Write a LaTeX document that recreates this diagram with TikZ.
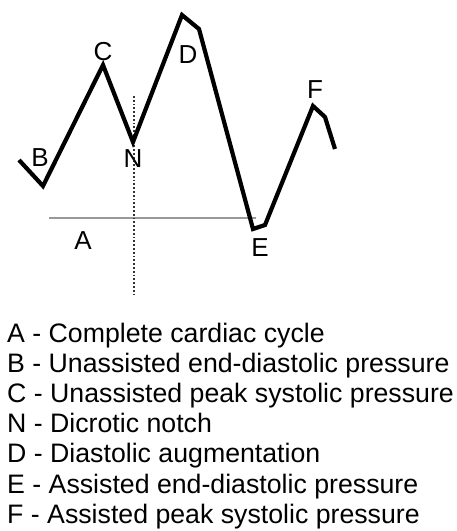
\documentclass[tikz,border=0pt]{standalone}
\usepackage{fontspec}
\setmainfont{Liberation Sans}
\begin{document}
\begin{tikzpicture}[x=1pt,y=-1pt,
  wave/.style={line width=4.2pt,line join=miter,black},
  baseline grey/.style={line width=1.8pt,gray!80},
  notchline/.style={line width=1.8pt,dotted,black!80},
  lbl/.style={inner sep=0pt,font=\fontsize{26}{26}\selectfont},
  legend/.style={inner sep=0pt,anchor=base west,font=\fontsize{26.7}{30}\selectfont}]
\useasboundingbox (0,0) rectangle (456,531);
% waveform points
\coordinate (w0) at (19,160);
\coordinate (wB) at (43,186);
\coordinate (wC) at (103,65);
\coordinate (wN) at (133,142);
\coordinate (wD) at (182,15);
\coordinate (wD2) at (199,29);
\coordinate (wE) at (253,229);
\coordinate (wE2) at (265,225);
\coordinate (wF) at (313,106);
\coordinate (wF2) at (325,117);
\coordinate (wend) at (335,149);
% reference lines
\coordinate (hl) at (49,218);
\coordinate (hr) at (256,218);
\coordinate (vt) at (134,96);
\coordinate (vb) at (134,297);
\draw[baseline grey] (hl) -- (hr);
\draw[notchline] (vt) -- (vb);
\draw[wave] (w0) -- (wB) -- (wC) -- (wN) -- (wD) -- (wD2) -- (wE) -- (wE2) -- (wF) -- (wF2) -- (wend);
% point labels
\node[lbl] (lB) at (40,158) {B};
\node[lbl] (lC) at (103,52) {C};
\node[lbl] (lN) at (133,159) {N};
\node[lbl] (lD) at (188,55) {D};
\node[lbl] (lA) at (83,241) {A};
\node[lbl] (lE) at (260,248) {E};
\node[lbl] (lF) at (315,90) {F};
% legend
\node[legend] (t1) at (7,342) {A - Complete cardiac cycle};
\node[legend] (t2) at (7,372.2) {B - Unassisted end-diastolic pressure};
\node[legend] (t3) at (7,402.4) {C - Unassisted peak systolic pressure};
\node[legend] (t4) at (7,432.6) {N - Dicrotic notch};
\node[legend] (t5) at (7,462.8) {D - Diastolic augmentation};
\node[legend] (t6) at (7,493) {E - Assisted end-diastolic pressure};
\node[legend] (t7) at (7,523.2) {F - Assisted peak systolic pressure};
\end{tikzpicture}
\end{document}
